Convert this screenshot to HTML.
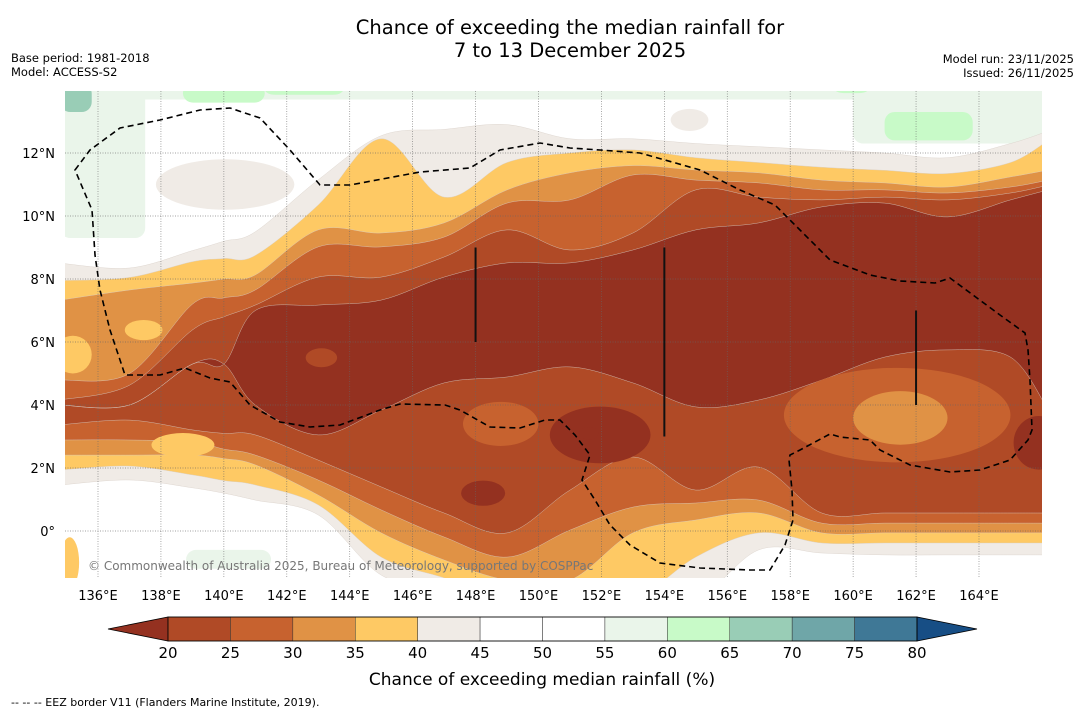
<!DOCTYPE html>
<html><head><meta charset="utf-8">
<style>
html,body{margin:0;padding:0;background:#fff;}
body{width:1085px;height:713px;overflow:hidden;font-family:"DejaVu Sans","Liberation Sans",sans-serif;}
svg text{font-family:"DejaVu Sans","Liberation Sans",sans-serif;}
</style></head>
<body>
<svg id="chart" width="1085" height="713" viewBox="0 0 1085 713" xmlns="http://www.w3.org/2000/svg">
<text x="570" y="34" font-size="19.5" text-anchor="middle" fill="#000">Chance of exceeding the median rainfall for</text>
<text x="570" y="57" font-size="19.5" text-anchor="middle" fill="#000">7 to 13 December 2025</text>
<text x="11" y="62" font-size="11.5">Base period: 1981-2018</text>
<text x="11" y="76" font-size="11.5">Model: ACCESS-S2</text>
<text x="1074" y="63" font-size="11.5" text-anchor="end">Model run: 23/11/2025</text>
<text x="1074" y="77" font-size="11.5" text-anchor="end">Issued: 26/11/2025</text>
<defs><clipPath id="mapclip"><rect x="65" y="91" width="977" height="487"/></clipPath></defs>
<g id="map" clip-path="url(#mapclip)">
<rect x="65" y="91" width="977" height="487" fill="#ffffff"/>
<g id="bands"></g>
<g id="blobs"></g>
<g id="grid"></g>
<path fill="none" stroke="#000" stroke-width="1.6" stroke-dasharray="6,4" d="M75,170 L90,150 L120,128 L160,120 L200,110 L230,108 L260,118 L290,150 L320,185 L350,185 L420,172 L470,168 L500,150 L540,143 L570,148 L600,150 L640,153 L665,160 L700,170 L740,190 L775,205 L800,230 L830,260 L870,275 L900,281 L935,283 L950,278 L1000,315 L1025,333 L1028,350 L1030,380 L1032,430 L1028,440 L1010,460 L980,470 L950,472 L910,465 L880,450 L870,440 L840,437 L830,434 L800,450 L790,455 L789,460 L792,490 L793,520 L785,545 L770,570 L750,570 L700,568 L660,563 L630,545 L610,525 L595,500 L582,480 L590,455 L575,435 L560,420 L545,420 L520,428 L490,427 L460,410 L445,405 L400,404 L380,410 L340,425 L310,427 L280,422 L250,405 L230,382 L210,378 L185,368 L160,375 L125,375 L110,330 L100,290 L95,255 L92,210 Z"/>
<g id="coast"></g>
<text x="88" y="570" font-size="12" fill="#777">© Commonwealth of Australia 2025, Bureau of Meteorology, supported by COSPPac</text>
</g>
<g id="axes"></g>
<g id="colorbar"></g>
<text x="542" y="685" font-size="17" text-anchor="middle">Chance of exceeding median rainfall (%)</text>
<text x="11" y="706" font-size="11">--  --  -- EEZ border V11 (Flanders Marine Institute, 2019).</text>
</svg>
<script>
// ---- data ----
const lons = [134.8,137,139,140,141,143,145,147,149,151,153,155,157,159,161,163,165,166.2];
const greyTop     = [8.5,8.35,8.9,9.2,9.5,11.15,12.55,12.75,12.9,12.45,12.45,12.3,12.2,12.1,12.0,11.85,12.3,12.7];
const yellowTop   = [7.95,8.05,8.55,8.65,8.75,10.35,12.45,10.6,11.7,12.0,12.1,11.85,11.7,11.55,11.45,11.35,11.7,12.4];
const lorangeTop  = [7.33,7.65,7.87,8.0,8.13,9.56,9.46,9.78,10.83,11.37,11.6,11.46,11.37,11.14,11.05,10.92,11.24,11.46];
const orangeTop   = [4.79,5.0,7.2,7.4,7.65,9.02,9.02,9.33,10.41,10.51,11.3,11.14,11.05,10.83,10.83,10.73,10.92,11.14];
const rustTop     = [4.16,4.63,6.38,6.8,7.17,8.06,8.06,8.70,9.56,8.92,9.46,10.83,10.60,10.51,10.60,10.51,10.73,10.98];
const darkTop     = [4.0,4.0,5.3,5.3,7.0,7.17,7.33,8.06,8.51,8.51,8.92,9.56,9.78,10.29,10.41,9.97,10.51,10.83];
const darkBottom  = [4.0,4.0,5.3,5.3,4.0,3.05,3.84,4.70,4.89,5.21,4.70,3.94,4.16,4.79,5.52,5.75,5.52,3.84];
const rustBottom  = [3.37,3.52,3.21,3.1,3.05,2.25,1.40,0.57,-0.06,1.30,2.35,1.30,2.03,0.57,0.57,0.57,0.57,0.57];
const orangeBottom= [2.89,2.89,2.83,2.6,2.41,1.62,0.67,-0.19,-0.83,0.03,0.76,0.89,0.98,0.25,0.25,0.25,0.25,0.25];
const lorangeBottom=[2.41,2.41,2.41,2.3,2.10,1.14,-0.06,-0.92,-1.56,-1.56,-0.06,0.35,0.57,-0.06,-0.06,-0.06,-0.06,-0.06];
const yellowBottom= [1.94,2.06,1.78,1.6,1.46,0.83,-0.83,-1.49,-2.2,-2.2,-2.2,-0.83,-0.06,-0.38,-0.38,-0.38,-0.38,-0.38];
const greyBottom  = [1.46,1.62,1.37,1.2,0.98,0.51,-1.40,-1.87,-2.2,-2.2,-2.2,-2.2,-0.60,-0.70,-0.76,-0.76,-0.76,-0.76];
// blobs: [lon, lat, rxDeg, ryDeg, level]
const blobLon  = [135.2,137.45,138.7,161.4,161.5,165.9,151.96,148.24,143.1,148.8,140.04,154.8,135.1,151.6];
const blobLat  = [5.6,6.38,2.73,3.68,3.59,2.8,3.05,1.2,5.5,3.4,11.0,13.05,-1.0,3.1];
const blobRx   = [0.6,0.6,1.0,3.6,1.5,0.8,1.6,0.7,0.5,1.2,2.2,0.6,0.3,0.3];
const blobRy   = [0.6,0.32,0.38,1.5,0.85,0.85,0.9,0.4,0.3,0.7,0.8,0.35,0.8,0.2];
const blobLvl  = ['yellow','yellow','yellow','orange','lorange','dark','dark','dark','rust','orange','grey','grey','yellow','dark'];
// top-area wet patches [lon0, lat0, lon1, lat1, level]
const patchLon0 = [134.8,134.8,138.7,141.3,150,160.0,161.0,134.8,159.4,138.8];
const patchLat0 = [14.2,14.2,14.2,14.2,14.2,14.2,13.3,14.2,14.2,-0.6];
const patchLon1 = [166.2,137.5,141.3,143.8,153,166.2,163.8,135.8,160.5,141.5];
const patchLat1 = [13.7,9.3,13.6,13.85,13.85,12.3,12.4,13.3,13.9,-1.2];
const patchLvl  = ['pale','pale','green','green','pale','pale','green','teal','green','pale'];
const cbLevels = [20,25,30,35,40,45,50,55,60,65,70,75,80];
const cbColors = ['#b04a26','#c7622f','#e09245','#fec964','#f0ebe6','#ffffff','#ffffff','#eaf5ea','#c8fac8','#99cdb6','#6fa6a8','#3f7896'];
const xTicks = [136,138,140,142,144,146,148,150,152,154,156,158,160,162,164];
const yTicks = [0,2,4,6,8,10,12];
const colors = {dark:'#943120',rust:'#b04a26',orange:'#c7622f',lorange:'#e09245',yellow:'#fec964',grey:'#f0ebe6',pale:'#eaf5ea',green:'#c8fac8',teal:'#99cdb6'};

// ---- axes ----
const X = lon => 98 + (lon-136)*31.464;
const Y = lat => 531 - lat*31.5;
const NS='http://www.w3.org/2000/svg';
function mk(tag, attrs, parent){const e=document.createElementNS(NS,tag);for(const k in attrs)e.setAttribute(k,attrs[k]);parent.appendChild(e);return e;}
function curve(pts){
  let d='';
  for(let i=0;i<pts.length-1;i++){
    const p0=pts[Math.max(0,i-1)],p1=pts[i],p2=pts[i+1],p3=pts[Math.min(pts.length-1,i+2)];
    const c1=[p1[0]+(p2[0]-p0[0])/6,p1[1]+(p2[1]-p0[1])/6];
    const c2=[p2[0]-(p3[0]-p1[0])/6,p2[1]-(p3[1]-p1[1])/6];
    d+=` C${c1[0].toFixed(1)},${c1[1].toFixed(1)} ${c2[0].toFixed(1)},${c2[1].toFixed(1)} ${p2[0].toFixed(1)},${p2[1].toFixed(1)}`;
  }
  return d;
}
const bands=document.getElementById('bands');
const layers=[['grey',greyTop,greyBottom],['yellow',yellowTop,yellowBottom],['lorange',lorangeTop,lorangeBottom],['orange',orangeTop,orangeBottom],['rust',rustTop,rustBottom],['dark',darkTop,darkBottom]];
for(let i=0;i<patchLvl.length;i++){
  const x0=X(patchLon0[i]),x1=X(patchLon1[i]),y0=Y(patchLat0[i]),y1=Y(patchLat1[i]);
  const r=mk('rect',{x:Math.min(x0,x1),y:Math.min(y0,y1),width:Math.abs(x1-x0),height:Math.abs(y1-y0),rx:10,fill:colors[patchLvl[i]]},bands);
  
  
}
layers.forEach(([lvl,top,bot])=>{
  const tp=lons.map((l,i)=>[X(l),Y(top[i])]);
  const bp=lons.map((l,i)=>[X(l),Y(bot[i])]).reverse();
  const d=`M${tp[0][0]},${tp[0][1]}`+curve(tp)+` L${bp[0][0]},${bp[0][1]}`+curve(bp)+'Z';
  const p=mk('path',{d:d,fill:colors[lvl],stroke:'#d8cfc8','stroke-width':0.4},bands);
  
  
});
const blobs=document.getElementById('blobs');
for(let i=0;i<blobLvl.length;i++){
  const e=mk('ellipse',{cx:X(blobLon[i]),cy:Y(blobLat[i]),rx:blobRx[i]*31.464,ry:blobRy[i]*31.5,fill:colors[blobLvl[i]]},blobs);
  
  
}
const grid=document.getElementById('grid');
xTicks.forEach(t=>{
  const l=mk('line',{x1:X(t),x2:X(t),y1:91,y2:578,stroke:'#666','stroke-width':0.7,'stroke-dasharray':'1,1.5',opacity:0.8},grid);
  
  
});
yTicks.forEach(t=>{
  const l=mk('line',{x1:65,x2:1042,y1:Y(t),y2:Y(t),stroke:'#666','stroke-width':0.7,'stroke-dasharray':'1,1.5',opacity:0.8},grid);
  
  
});
const coast=document.getElementById('coast');
const coastLon=[148,154,162], coastLat0=[9,9,7], coastLat1=[6,3,4];
coastLon.forEach((l,i)=>{
  const c=mk('line',{x1:X(l),x2:X(l),y1:Y(coastLat0[i]),y2:Y(coastLat1[i]),stroke:'#111','stroke-width':2},coast);
  
  
});
const axes=document.getElementById('axes');
xTicks.forEach(t=>{
  const tx=mk('text',{x:X(t),y:600,'font-size':13,'text-anchor':'middle'},axes);
  tx.textContent=t+'°E';
  
  
});
yTicks.forEach(t=>{
  const tx=mk('text',{x:55,y:Y(t)+5,'font-size':13,'text-anchor':'end'},axes);
  tx.textContent=t===0?'0°':t+'°N';
  
  
});
const cb=document.getElementById('colorbar');
const cbX=v=>168+(v-20)*(917-168)/60;
const y0=617,y1=641;
const lt=mk('polygon',{points:`108,${(y0+y1)/2} ${cbX(20)},${y0} ${cbX(20)},${y1}`,fill:'#943120',stroke:'#000','stroke-width':0.8},cb);


for(let i=0;i<cbColors.length;i++){
  const r=mk('rect',{x:cbX(cbLevels[i]),y:y0,width:cbX(cbLevels[i+1])-cbX(cbLevels[i]),height:y1-y0,fill:cbColors[i],stroke:'#333','stroke-width':0.5},cb);
  
  
}
const rt=mk('polygon',{points:`977,${(y0+y1)/2} ${cbX(80)},${y0} ${cbX(80)},${y1}`,fill:'#174e85',stroke:'#000','stroke-width':0.8},cb);


const fr=mk('rect',{x:cbX(20),y:y0,width:cbX(80)-cbX(20),height:y1-y0,fill:'none',stroke:'#000','stroke-width':0.8},cb);


cbLevels.forEach(v=>{
  const t=mk('text',{x:cbX(v),y:658,'font-size':15,'text-anchor':'middle'},cb);
  t.textContent=v;
  
  
});
</script>
</body></html>
